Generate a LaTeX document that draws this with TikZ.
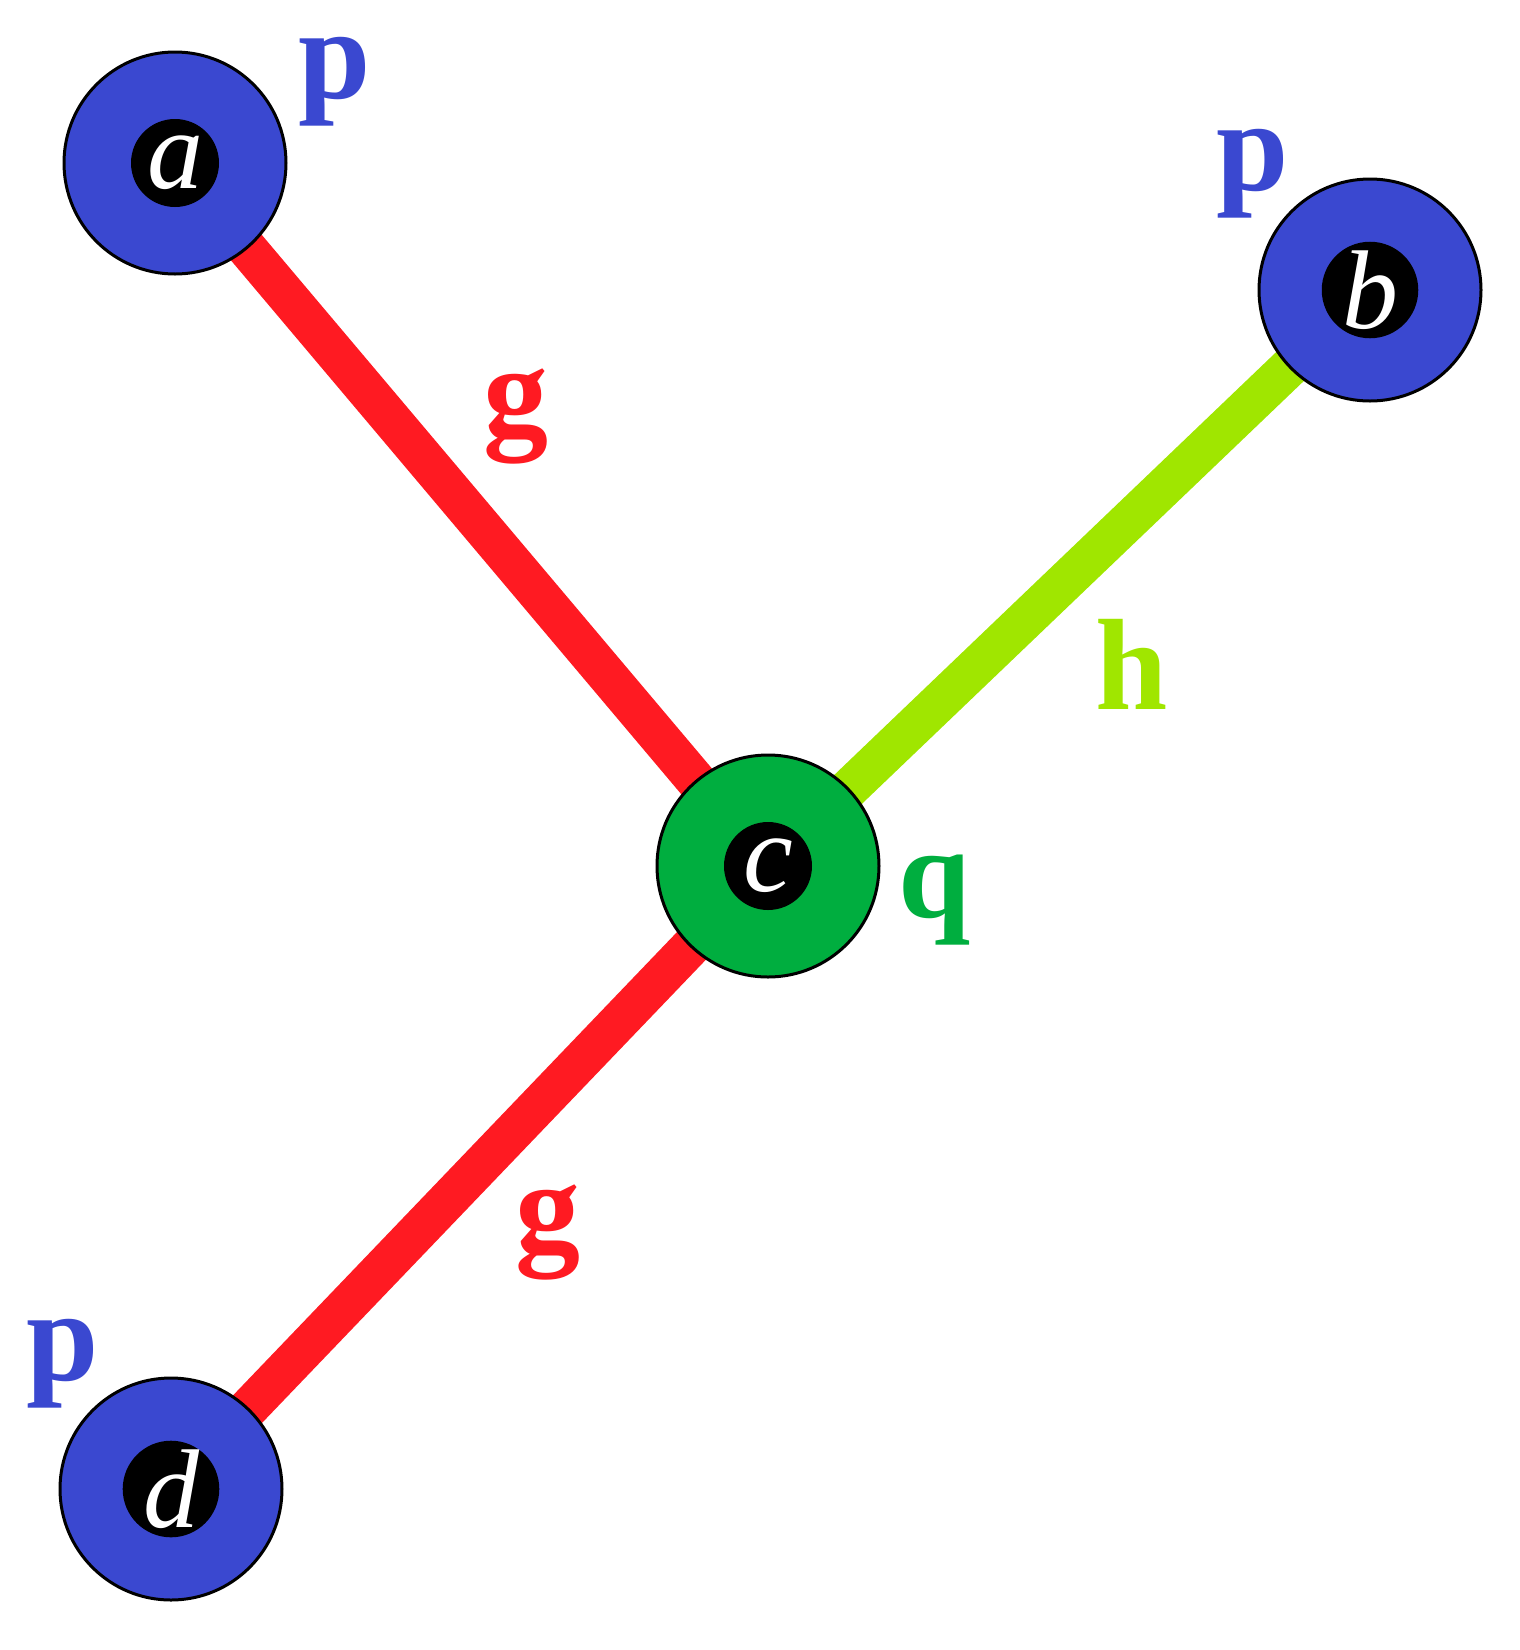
\documentclass[tikz,border=0pt]{standalone}
\usepackage{fontspec}
\setmainfont{Liberation Serif}
\usetikzlibrary{backgrounds}
\definecolor{nblue}{HTML}{3A48D0}
\definecolor{ered}{HTML}{FF1A22}
\definecolor{elime}{HTML}{A0E600}
\definecolor{ngreen}{HTML}{00AE3F}
\begin{document}
\begin{tikzpicture}[x=1pt,y=-1pt,
  vert/.style={circle,draw=black,line width=3pt,minimum size=222pt,inner sep=0pt},
  inner/.style={circle,fill=black,minimum size=88pt,inner sep=0pt,text=white,font=\fontsize{112}{112}\selectfont\itshape},
  lab/.style={font=\fontsize{130}{130}\selectfont\bfseries},
  edge/.style={line width=40pt}]
\useasboundingbox (0,0) rectangle (1519,1650);
\node[vert,fill=nblue] (a) at (175,163) {};
\node[vert,fill=nblue] (b) at (1370,290) {};
\node[vert,fill=ngreen] (c) at (768,866) {};
\node[vert,fill=nblue] (d) at (171,1489) {};
\begin{pgfonlayer}{background}
\draw[edge,ered] (a.center) -- (c.center);
\draw[edge,elime] (b.center) -- (c.center);
\draw[edge,ered] (d.center) -- (c.center);
\end{pgfonlayer}
\node[inner] (ai) at (a) {a};
\node[inner] (bi) at (b) {b};
\node[inner] (ci) at (c) {c};
\node[inner] (di) at (d) {d};
\node[lab,text=nblue] (pa) at (335,82) {p};
\node[lab,text=nblue] (pb) at (1253,174) {p};
\node[lab,text=nblue] (pd) at (63,1364) {p};
\node[lab,text=ngreen] (q) at (935,900) {q};
\node[lab,text=ered] (g1) at (516,416) {g};
\node[lab,text=elime] (h) at (1132,664) {h};
\node[lab,text=ered] (g2) at (548,1232) {g};
\end{tikzpicture}
\end{document}
